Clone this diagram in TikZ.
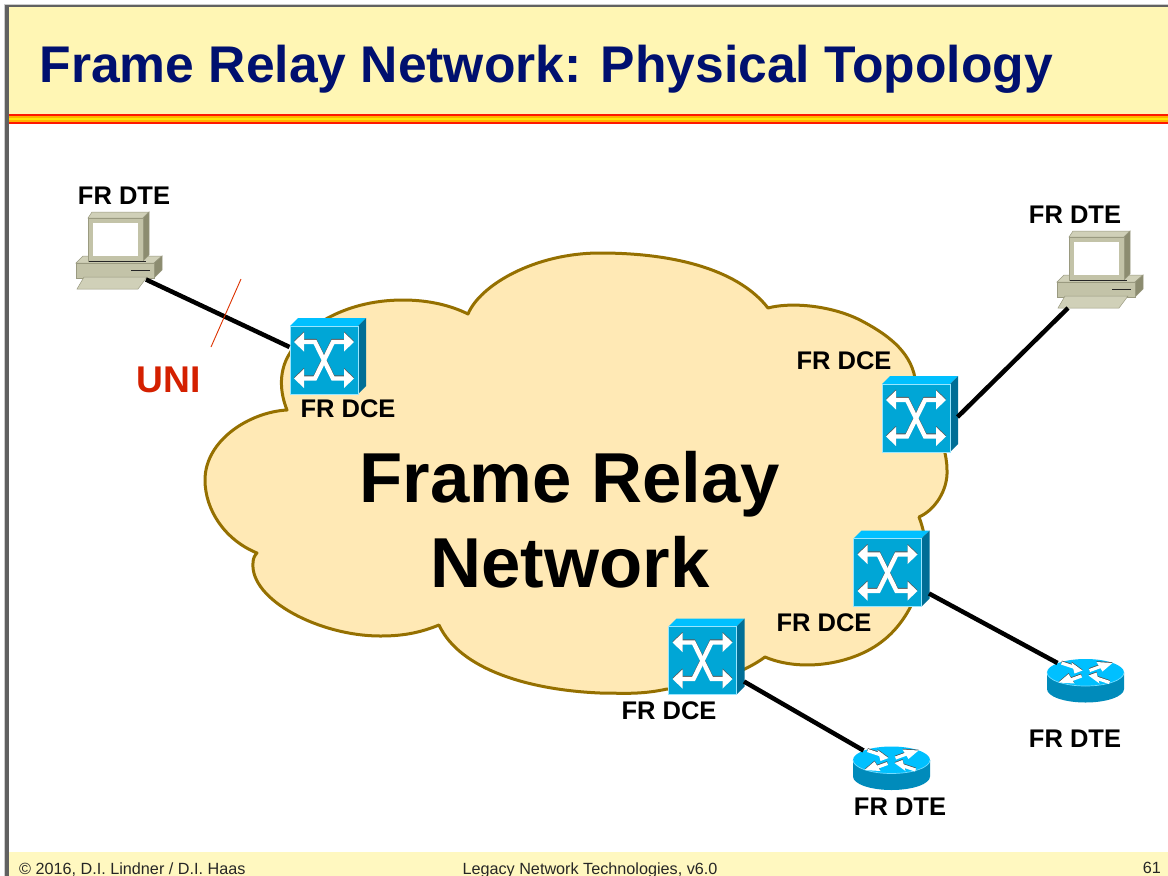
\documentclass[tikz,border=0pt]{standalone}
\usepackage{fontspec}
\setmainfont{Liberation Sans}
\definecolor{hdr}{HTML}{FFF6B4}
\definecolor{ftr}{HTML}{FFF8C0}
\definecolor{navy}{HTML}{00106F}
\definecolor{cloudfill}{HTML}{FFE9B5}
\definecolor{cloudline}{HTML}{957000}
\definecolor{swfront}{HTML}{00A6D6}
\definecolor{swtop}{HTML}{00C0FF}
\definecolor{swside}{HTML}{006E96}
\definecolor{rside}{HTML}{008BBB}
\definecolor{pcfront}{HTML}{C3C3A8}
\definecolor{pctop}{HTML}{D0D0B8}
\definecolor{pcside}{HTML}{8C8C70}
\definecolor{pcline}{HTML}{9A9A80}
\definecolor{unired}{HTML}{D42000}
\newcommand{\px}[1]{\fontsize{#1}{#1}\selectfont}
\tikzset{
  x=1pt,y=-1pt,
  lbl/.style={inner sep=0pt,font=\px{25.5}\bfseries,text=black},
  big/.style={inner sep=0pt,anchor=base,font=\px{70.7}\bfseries,text=black},
  foot/.style={inner sep=0pt,font=\px{16.2},text=black!85},
  link/.style={draw=black,line width=4.5pt},
  switchicon/.pic={
    \fill[swtop] (-34,-34) -- (-26,-42) -- (42,-42) -- (34,-34) -- cycle;
    \fill[swside] (34,-34) -- (42,-42) -- (42,26) -- (34,34) -- cycle;
    \fill[swfront] (-34,-34) rectangle (34,34);
    \draw[white!60!swtop,line width=.8pt] (-34,34) -- (-34,-34) -- (34,-34) -- (34,34) -- cycle;
    \foreach \d/\c in {-1/black!65,0/white}{
      \begin{scope}[shift={(0,\d)}]
        \draw[draw=\c,line width=4.4pt] (-22,-18) -- (-9,-18) -- (9,18.5) -- (22,18.5);
        \draw[draw=\c,line width=4.4pt] (22,-18) -- (9,-18) -- (-9,18.5) -- (-22,18.5);
        \fill[\c] (-30,-18) -- (-20,-27.5) -- (-20,-8.5) -- cycle;
        \fill[\c] (30,-18) -- (20,-27.5) -- (20,-8.5) -- cycle;
        \fill[\c] (-30,18.5) -- (-20,9) -- (-20,28) -- cycle;
        \fill[\c] (30,18.5) -- (20,9) -- (20,28) -- cycle;
      \end{scope}
    }
    \coordinate (-southeast) at (41.5,21);
    \coordinate (-east) at (41.5,-1);
    \coordinate (-west) at (-34.5,-13);
  },
  routericon/.pic={
    \fill[rside] (-38.5,0) -- (-38.5,16.5) arc[start angle=180,end angle=0,x radius=38.5,y radius=13.5] -- (38.5,0) -- cycle;
    \fill[swtop] (0,0) ellipse[x radius=38.5,y radius=13.5];
    \draw[white!45!swtop,line width=.7pt] (-38.5,0) arc[start angle=180,end angle=0,x radius=38.5,y radius=13.5];
    \foreach \d/\c in {-0.8/black!70,0/white}{
      \begin{scope}[shift={(0,\d)}]
        \draw[draw=\c,line width=3.2pt] (-24,-9.5) -- (-9,-4.5);
        \fill[\c] (-3,-2) -- (-14,-10) -- (-11,1) -- cycle;
        \draw[draw=\c,line width=3.2pt] (4,-2) -- (15,-6);
        \fill[\c] (27,-9.5) -- (11,-10.5) -- (17,-1) -- cycle;
        \draw[draw=\c,line width=3.2pt] (-4,3.5) -- (-15,7.5);
        \fill[\c] (-27,10) -- (-11,11) -- (-17,1.5) -- cycle;
        \draw[draw=\c,line width=3.2pt] (24,10) -- (9,5);
        \fill[\c] (3,3) -- (14,11) -- (11,0) -- cycle;
      \end{scope}
    }
    \coordinate (-northwest) at (-28,-9.5);
  },
  pcicon/.pic={
    % base
    \fill[pctop,draw=pcline,line width=.5pt] (76,263) -- (83,256) -- (162,256) -- (154,263) -- cycle;
    \fill[pcside,draw=pcline,line width=.5pt] (154,263) -- (162,256) -- (162,270) -- (154,278) -- cycle;
    \fill[pcfront,draw=pcline,line width=.5pt] (76,263) rectangle (154,278);
    \draw[black!85,line width=.9pt] (131,270) -- (150,270);
    % monitor
    \fill[pctop,draw=pcline,line width=.5pt] (88,218) -- (92,212) -- (149,212) -- (143,218) -- cycle;
    \fill[pcside,draw=pcline,line width=.5pt] (143,218) -- (149,212) -- (149,255) -- (143,261) -- cycle;
    \fill[pcfront,draw=pcline,line width=.5pt] (88,218) rectangle (143,261);
    \fill[white] (93,223) rectangle (138,256);
    \draw[black!85,line width=1pt] (89,261.5) -- (146,261.5);
    % keyboard
    \fill[pctop,draw=pcline,line width=.5pt] (84,277) -- (147,277) -- (138,289) -- (77,289) -- cycle;
    \coordinate (-port) at (146,279.5);
    \coordinate (-kbd) at (87,289);
  }
}
\begin{document}
\begin{tikzpicture}
\useasboundingbox (0,0) rectangle (1168,876);
\fill[white] (0,0) rectangle (1168,876);
% frame and header
\fill[black!20] (3.5,3.5) rectangle (1168,876);
\fill[white] (8.5,7) rectangle (1168,876);
\fill[hdr] (8.5,7) rectangle (1168,114);
\fill[black!62] (5,4.5) rectangle (8.5,876);
\fill[black!62] (5,4.5) rectangle (1168,7);
\fill[ftr] (8.5,852) rectangle (1168,876);
% stripe
\fill[orange!20!red] (8.5,114) rectangle (1168,123.5);
\fill[orange!60!yellow] (8.5,115.5) rectangle (1168,122);
\fill[yellow!90!orange] (8.5,117.5) rectangle (1168,120);
\node[inner sep=0pt,anchor=base west,font=\px{51.6}\bfseries,text=navy] (title) at (39.5,82) {Frame Relay Network: Physical Topology};
% cloud
\draw[draw=cloudline,fill=cloudfill,line width=3pt,line join=round,miter limit=2] (287,410)
  .. controls (277,385) and (282,365) .. (290,353)
  .. controls (300,332) and (340,300) .. (403,300)
  .. controls (430,300) and (452,306) .. (468,314)
  .. controls (480,285) and (535,253) .. (600,253)
  .. controls (680,253) and (740,272) .. (768,308)
  .. controls (790,302) and (830,305) .. (860,320)
  .. controls (885,333) and (910,350) .. (915,378)
  .. controls (925,405) and (947,440) .. (947,470)
  .. controls (948,490) and (935,510) .. (919,517)
  .. controls (922,525) and (925,535) .. (925,545)
  .. controls (925,590) and (905,625) .. (880,643)
  .. controls (850,665) and (800,672) .. (765,657)
  .. controls (745,672) and (700,690) .. (667,689)
  .. controls (640,695) and (620,693) .. (600,693)
  .. controls (530,690) and (460,670) .. (439,625)
  .. controls (415,635) and (395,636) .. (380,636)
  .. controls (320,636) and (250,600) .. (253,563)
  .. controls (253,558) and (255,555) .. (257,553)
  .. controls (225,540) and (205,510) .. (205,480)
  .. controls (205,440) and (250,412) .. (287,410)
  -- cycle;
\node[big] (cloudA) at (570,502) {Frame Relay};
\node[big] (cloudB) at (570,587) {Network};
% icons
\pic (pc1) at (0,0) {pcicon};
\pic (pc2) at (981,19) {pcicon};
\pic (sw1) at (324,360) {switchicon};
\pic (sw2) at (916,418) {switchicon};
\pic (sw3) at (887.5,572.5) {switchicon};
\pic (sw4) at (702.5,660.5) {switchicon};
\pic (r1) at (1085.5,672.5) {routericon};
\pic (r2) at (891.5,760) {routericon};
% connectors
\coordinate (uniA) at (241,279);
\coordinate (uniB) at (211,347);
\draw[link] (pc1-port) -- (sw1-west);
\draw[link] (sw2-east) -- (pc2-kbd);
\draw[link] (sw3-southeast) -- (r1-northwest);
\draw[link] (sw4-southeast) -- (r2-northwest);
\draw[draw=unired!80!orange,line width=.9pt] (uniA) -- (uniB);
% labels
\node[inner sep=0pt,anchor=base,font=\px{37.2}\bfseries,text=unired] (uni) at (169,392) {UNI};
\node[lbl] (l1) at (124,195.5) {FR DTE};
\node[lbl] (l2) at (1075,214.5) {FR DTE};
\node[lbl] (l3) at (1075,739) {FR DTE};
\node[lbl] (l4) at (900,807) {FR DTE};
\node[lbl] (l5) at (348,409) {FR DCE};
\node[lbl] (l6) at (844,361) {FR DCE};
\node[lbl] (l7) at (824,623) {FR DCE};
\node[lbl] (l8) at (669,711) {FR DCE};
% footer
\node[foot,anchor=base west] (f1) at (19,874) {© 2016, D.I. Lindner / D.I. Haas};
\node[foot,anchor=base] (f2) at (590,874) {Legacy Network Technologies, v6.0};
\node[foot,anchor=base east] (f3) at (1161,873.5) {61};
\end{tikzpicture}
\end{document}
